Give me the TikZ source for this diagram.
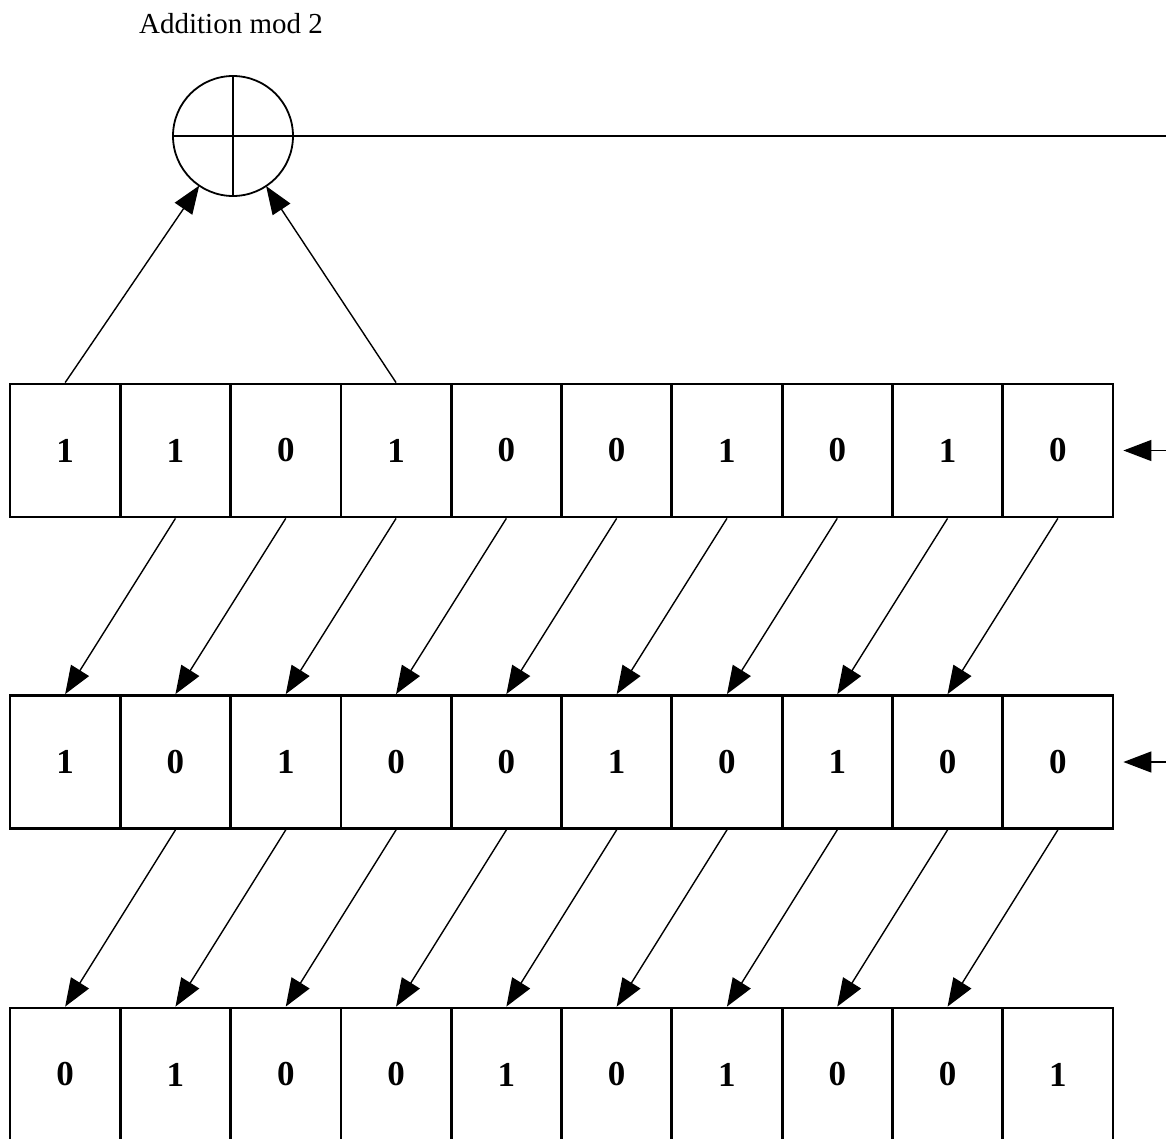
\documentclass[tikz,border=0pt]{standalone}
\usepackage{fontspec}
\setmainfont{Liberation Serif}
\usetikzlibrary{arrows.meta}
\begin{document}
\begin{tikzpicture}[x=0.5pt, y=-0.5pt,
        every node/.style={font=\fontsize{17.5}{20}\selectfont\bfseries},
        cell/.style={rectangle, draw, line width=1.4pt,
            minimum width=55.15pt, minimum height=66.5pt,
            inner sep=0pt, align=center},
        xorbox/.style={circle, draw, line width=0.9pt,
            minimum size=60pt, inner sep=0pt, outer sep=0pt},
        wire/.style={line width=0.7pt},
        arrow/.style={-{Triangle[length=14pt, width=10.5pt]}, line width=0.7pt},
        title/.style={font=\fontsize{14.5}{17}\selectfont, anchor=base}
      ]
      \useasboundingbox (0,0) rectangle (1166,1139);
      % register contents, row by row
      \foreach \v [count=\i from 0] in {1,1,0,1,0,0,1,0,1,0}
        \node[cell] (r1c\i) at ({65.15+110.3*\i}, 450.5) {\v};
      \foreach \v [count=\i from 0] in {1,0,1,0,0,1,0,1,0,0}
        \node[cell] (r2c\i) at ({65.15+110.3*\i}, 762) {\v};
      \foreach \v [count=\i from 0] in {0,1,0,0,1,0,1,0,0,1}
        \node[cell] (r3c\i) at ({65.15+110.3*\i}, 1074.5) {\v};
      % adder
      \node[title] (label) at (231, 34) {Addition mod 2};
      \node[xorbox] (add) at (233, 136) {};
      \draw[wire] (add.north) -- (add.south);
      \draw[wire] (add.west) -- (add.east);
      \coordinate (out) at (1168, 136);
      \draw[wire] (add.east) -- (out);
      \draw[arrow] (r1c0.north) -- (add);
      \draw[arrow] (r1c3.north) -- (add);
      % feedback inputs
      \coordinate (in1) at (1168, 450.5);
      \coordinate (in2) at (1168, 762);
      \draw[arrow, shorten >=4.5pt] (in1) -- (r1c9.east);
      \draw[arrow, shorten >=4.5pt] (in2) -- (r2c9.east);
      % shifts
      \foreach \i in {0,...,8}{
        \pgfmathtruncatemacro\j{\i+1}
        \draw[arrow] (r1c\j.south) -- (r2c\i.north);
        \draw[arrow] (r2c\j.south) -- (r3c\i.north);
      }
    \end{tikzpicture}
\end{document}
